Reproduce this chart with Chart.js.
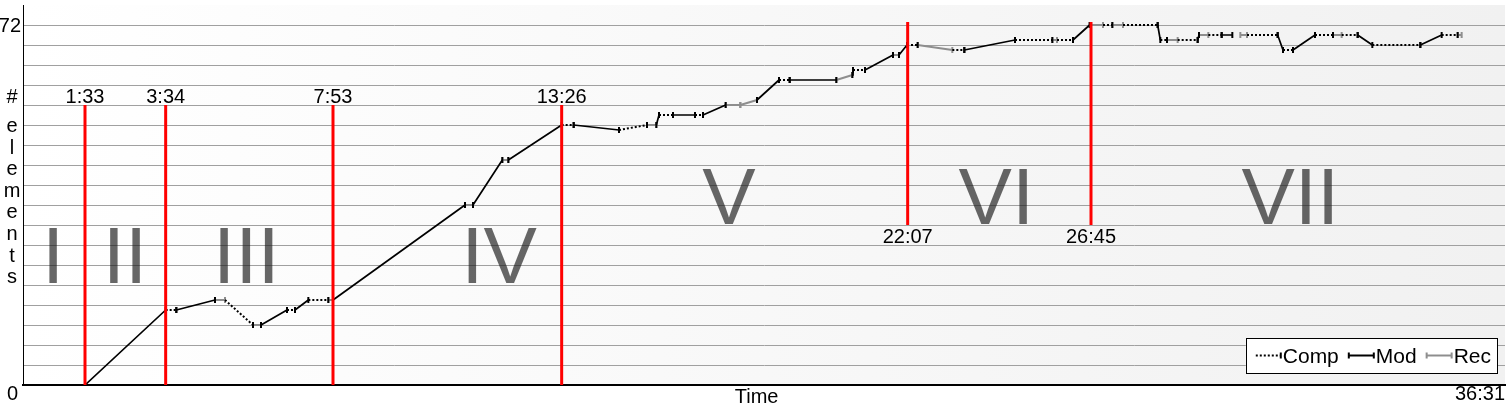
<!DOCTYPE html>
<html lang="en">
<head>
<meta charset="UTF-8">
<title>Elements over time</title>
<script src="https://cdn.jsdelivr.net/npm/chart.js"></script>
<style>
  body { margin: 0; background: #fff; }
  #wrap { width: 1507px; height: 409px; position: relative; }
</style>
</head>
<body>
<div id="wrap"><canvas id="elementsChart"></canvas></div>
<script>
// path of the element count: time in seconds, number of elements
const pathTimes = [93, 214, 230, 288, 303, 345, 357, 396, 408, 428, 458, 465, 663, 675, 719, 728,
  808, 826, 894, 936, 950, 954, 975, 1008, 1020, 1054, 1076, 1101, 1134, 1150, 1220, 1244, 1245,
  1263, 1305, 1314, 1326, 1342, 1394, 1412, 1488, 1544, 1551, 1575, 1600, 1620, 1634, 1650, 1702,
  1706, 1716, 1732, 1762, 1764, 1778, 1798, 1814, 1826, 1836, 1882, 1890, 1905, 1938, 1965, 1978,
  2002, 2024, 2096, 2128, 2152, 2158];
const pathCounts = [0, 15, 15, 17, 17, 12, 12, 15, 15, 17, 17, 17, 36, 36, 45, 45,
  52, 52, 51, 52, 52, 54, 54, 54, 54, 56, 56, 57, 61, 61, 61, 62, 63,
  63, 66, 66, 68, 68, 67, 67, 69, 69, 69, 69, 72, 72, 72, 72, 72,
  69, 69, 69, 69, 70, 70, 70, 70, 70, 70, 70, 67, 67, 70, 70, 70,
  70, 68, 68, 70, 70, 70];
// kind of each step between two neighbouring points (C = Comp, M = Mod, R = Rec, '-' = nothing)
const pathKinds = ['M', 'C', 'M', 'R', 'C', 'R', 'M', 'C', 'M', 'C', 'R', 'M', 'R', 'M', 'R', 'M',
  'C', 'M', 'C', 'R', 'M', 'C', 'M', 'C', 'M', 'R', 'R', 'M', 'C', 'M', 'R', 'M',
  'C', 'M', 'R', 'M', 'C', 'R', 'C', 'M', 'C', 'R', 'C', 'M', 'R', 'C', 'R', 'C',
  'M', 'C', 'R', 'C', 'M', 'R', 'C', 'M', '-', 'R', 'C', 'M', 'C', 'M', 'C', 'R',
  'C', 'M', 'C', 'M', 'C', 'R'];

const seriesKeys = ['C', 'M', 'R'];
const seriesNames = ['Comp', 'Mod', 'Rec'];

// phase boundaries (red lines)
const markTimes = [93, 214, 465, 808, 1327, 1602];
const markLabels = ['1:33', '3:34', '7:53', '13:26', '22:07', '26:45'];
const markFrom = [0, 0, 0, 0, 32, 32];
const markTo = [56, 56, 56, 56, 72.6, 72.6];

// phase names and where they sit (time, count of the baseline)
const phaseNames = ['I', 'II', 'III', 'IV', 'V', 'VI', 'VII'];
const phaseTimes = [45, 153, 335, 714, 1059, 1460, 1901];
const phaseCounts = [20.4, 20.4, 20.4, 20.4, 32.2, 32.2, 32.2];

const yTickValues = [72];
const yTickLabels = ['72'];
const xEndLabels = ['0', '36:31'];
const timeEnd = 2223;
const countMax = 76;

const fontFamily = '"Liberation Sans", Arial, sans-serif';
const seriesColors = ['#000000', '#000000', '#8e8e8e'];
const seriesDash = [[2, 2], [], []];
const seriesWidth = [2, 1.7, 2];

// build one dataset per kind, segments split by null points
function buildSeries(key) {
  const out = [];
  for (let i = 0; i < pathKinds.length; i++) {
    if (pathKinds[i] !== key) continue;
    out.push({ x: pathTimes[i], y: pathCounts[i], end: false });
    out.push({ x: pathTimes[i + 1], y: pathCounts[i + 1], end: true });
    out.push({ x: pathTimes[i + 1], y: null });
  }
  return out;
}

const datasets = [];
// red lines first so they sit on top
markTimes.forEach((t, i) => {
  datasets.push({
    data: [{ x: t, y: markFrom[i] }, { x: t, y: markTo[i] }],
    borderColor: '#ff0000',
    borderWidth: 3,
    pointRadius: 0
  });
});
seriesKeys.forEach((key, i) => {
  const dotted = seriesDash[i].length > 0;
  datasets.push({
    label: seriesNames[i],
    data: buildSeries(key),
    borderColor: seriesColors[i],
    borderWidth: seriesWidth[i],
    borderDash: seriesDash[i],
    spanGaps: false,
    tension: 0,
    pointStyle: 'line',
    rotation: 90,
    pointRadius: c => (dotted && c.raw && !c.raw.end) ? 0 : 3,
    pointBorderWidth: 2,
    pointBorderColor: seriesColors[i],
    pointBackgroundColor: seriesColors[i]
  });
});

function drawSample(ctx, i, x, y, w) {
  ctx.save();
  ctx.strokeStyle = seriesColors[i];
  ctx.lineWidth = 2;
  ctx.setLineDash(seriesDash[i]);
  ctx.beginPath(); ctx.moveTo(x, y); ctx.lineTo(x + w, y); ctx.stroke();
  ctx.setLineDash([]);
  ctx.beginPath();
  ctx.moveTo(x + w, y - 3); ctx.lineTo(x + w, y + 3);
  if (seriesDash[i].length === 0) { ctx.moveTo(x, y - 3); ctx.lineTo(x, y + 3); }
  ctx.stroke();
  ctx.restore();
}

const decorPlugin = {
  id: 'decor',
  beforeDraw(chart) {
    const { ctx, chartArea: a } = chart;
    const g = ctx.createLinearGradient(a.left, 0, a.right, 0);
    g.addColorStop(0, '#ffffff');
    g.addColorStop(1, '#f1f1f1');
    ctx.save();
    ctx.fillStyle = g;
    ctx.fillRect(a.left, a.top, a.right - a.left, a.bottom - a.top);
    ctx.restore();
  },
  beforeDatasetsDraw(chart) {
    const { ctx, scales: { x, y } } = chart;
    ctx.save();
    ctx.font = '80px ' + fontFamily;
    ctx.fillStyle = 'rgba(25,25,25,0.66)';
    ctx.textAlign = 'center';
    ctx.textBaseline = 'alphabetic';
    phaseNames.forEach((n, i) => {
      ctx.fillText(n, x.getPixelForValue(phaseTimes[i]), y.getPixelForValue(phaseCounts[i]));
    });
    ctx.restore();
  },
  afterDraw(chart) {
    const { ctx, chartArea: a, scales: { x, y } } = chart;
    ctx.save();
    ctx.fillStyle = '#000';
    ctx.font = '20px ' + fontFamily;
    ctx.textAlign = 'center';
    ctx.textBaseline = 'alphabetic';
    // red line labels
    markTimes.forEach((t, i) => {
      const px = x.getPixelForValue(t);
      if (markFrom[i] > 0) ctx.fillText(markLabels[i], px, y.getPixelForValue(markFrom[i]) + 18);
      else ctx.fillText(markLabels[i], px, y.getPixelForValue(markTo[i]) - 2);
    });
    // y tick labels
    ctx.textAlign = 'right';
    ctx.textBaseline = 'middle';
    yTickValues.forEach((v, i) => ctx.fillText(yTickLabels[i], a.left - 2, y.getPixelForValue(v) + 1));
    // bottom labels
    ctx.textBaseline = 'alphabetic';
    ctx.fillText(xEndLabels[0], a.left - 5, a.bottom + 15);
    ctx.fillText(xEndLabels[1], a.right, a.bottom + 15);
    ctx.textAlign = 'center';
    ctx.fillText('Time', a.left + (a.right - a.left) * 0.495, a.bottom + 18);
    // stacked y title
    ctx.fillText('#', 12, 103);
    'elements'.split('').forEach((ch, i) => ctx.fillText(ch, 12, 132 + i * 21.6));
    // legend
    ctx.font = '21px ' + fontFamily;
    ctx.textAlign = 'left';
    const sw = 25, padL = 10, padR = 6, gap = 10;
    const widths = seriesNames.map(n => ctx.measureText(n).width);
    let boxW = padL + padR;
    widths.forEach((w, i) => { boxW += sw + 2 + w + (i < widths.length - 1 ? gap : 0); });
    const bx = a.right - 8 - boxW, by = a.bottom - 47, bh = 35;
    ctx.fillStyle = '#fff';
    ctx.fillRect(bx, by, boxW, bh);
    ctx.strokeStyle = '#000';
    ctx.lineWidth = 1;
    ctx.strokeRect(Math.round(bx) + 0.5, by + 0.5, Math.round(boxW), bh);
    let cx = bx + padL;
    const cy = by + bh / 2;
    seriesNames.forEach((n, i) => {
      drawSample(ctx, i, cx, cy, sw);
      cx += sw + 2;
      ctx.fillStyle = '#000';
      ctx.fillText(n, cx, by + 25);
      cx += widths[i] + gap;
    });
    ctx.restore();
  }
};

new Chart(document.getElementById('elementsChart'), {
  type: 'line',
  data: { datasets: datasets },
  options: {
    responsive: true,
    maintainAspectRatio: false,
    animation: false,
    events: [],
    layout: { autoPadding: false, padding: { left: 23, right: 2, top: 5, bottom: 24 } },
    plugins: { legend: { display: false }, tooltip: { enabled: false } },
    scales: {
      x: {
        type: 'linear', min: 0, max: timeEnd,
        grid: { display: false, drawTicks: false },
        border: { display: true, color: '#000', width: 2 },
        ticks: { display: false }
      },
      y: {
        min: 0, max: countMax,
        ticks: { display: false, stepSize: 4 },
        grid: { drawTicks: false, lineWidth: 1, color: c => c.tick.value >= countMax ? 'rgba(0,0,0,0)' : '#a0a0a0' },
        border: { display: true, color: '#000', width: 1 }
      }
    }
  },
  plugins: [decorPlugin]
});
</script>
</body>
</html>
